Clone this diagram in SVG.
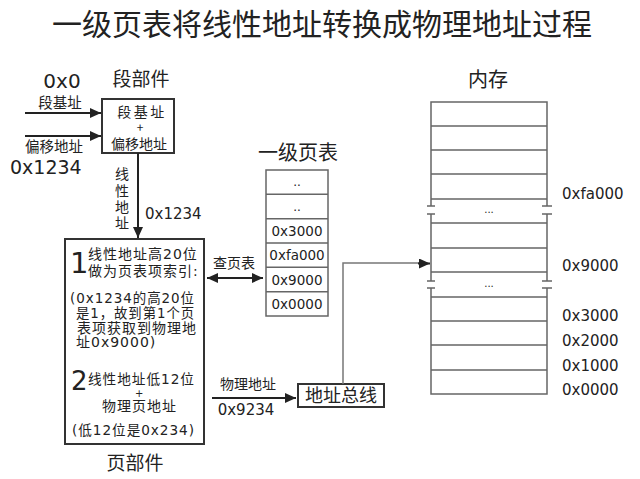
<svg xmlns="http://www.w3.org/2000/svg" width="640" height="479" viewBox="0 0 640 479">
<defs>
<marker id="ah" markerUnits="userSpaceOnUse" markerWidth="12" markerHeight="10" refX="11" refY="5" orient="auto-start-reverse">
<path d="M0,0 L11,5 L0,10 Z" fill="#222"/>
</marker>
</defs>
<style>
text{font-family:"DejaVu Sans","Noto Sans CJK SC",sans-serif;fill:#222}
.cjk{font-family:"Noto Sans CJK SC",sans-serif}
.c{text-anchor:middle}
.box{fill:#fff;stroke:#333;stroke-width:2}
.grid{fill:none;stroke:#666;stroke-width:1.5}
.arr{fill:none;stroke:#222;stroke-width:2}
.thin{fill:none;stroke:#777;stroke-width:1.5}
.pu{font-size:14px;letter-spacing:1px}
</style>
<rect width="640" height="479" fill="#fff"/>

<g id="title">
<text class="cjk c" x="322" y="35" font-size="30">一级页表将线性地址转换成物理地址过程</text>
</g>

<g id="segment-unit">
<text class="cjk c" x="141" y="86" font-size="19">段部件</text>
<rect class="box" x="102" y="99" width="72" height="54"/>
<text class="cjk c" font-size="14"><tspan x="142" y="117" letter-spacing="2.5">段基址</tspan><tspan x="140" y="132" font-size="12">+</tspan><tspan x="139" y="149">偏移地址</tspan></text>
</g>

<g id="inputs">
<text class="c" x="62" y="88" font-size="20">0x0</text>
<text class="cjk c" x="60" y="107.5" font-size="14.5">段基址</text>
<text class="cjk" x="25" y="152" font-size="14.5">偏移地址</text>
<text x="10" y="174" font-size="19">0x1234</text>
</g>

<g id="linear-label">
<text class="cjk" x="122" y="167" font-size="14" writing-mode="vertical-rl" letter-spacing="2.3">线性地址</text>
<text x="145" y="219" font-size="15">0x1234</text>
</g>

<g id="page-unit">
<rect class="box" x="65" y="239" width="139" height="205"/>
<text x="70" y="273" font-size="29">1</text>
<text class="pu" x="88" y="259">线性地址高20位</text>
<text class="pu" x="88" y="276">做为页表项索引:</text>
<text class="pu" x="70" y="303" textLength="125" lengthAdjust="spacingAndGlyphs">(0x1234的高20位</text>
<text class="pu" x="76" y="318" textLength="119" lengthAdjust="spacingAndGlyphs">是1，故到第1个页</text>
<text class="pu" x="77" y="333">表项获取到物理地</text>
<text class="pu" x="76" y="347">址0x9000)</text>
<text x="71" y="390" font-size="26">2</text>
<text class="pu"><tspan x="88" y="384" textLength="107" lengthAdjust="spacingAndGlyphs">线性地址低12位</tspan><tspan x="135" y="397" font-size="10">+</tspan><tspan x="102" y="411">物理页地址</tspan></text>
<text class="pu" x="72" y="435" textLength="123" lengthAdjust="spacingAndGlyphs">(低12位是0x234)</text>
<text class="cjk c" x="135" y="470" font-size="19">页部件</text>
</g>

<g id="page-table">
<text class="cjk c" x="298" y="160" font-size="20">一级页表</text>
<rect class="grid" x="266" y="170" width="62" height="146"/>
<path class="grid" d="M266,194.3H328M266,218.7H328M266,243H328M266,267.3H328M266,291.7H328"/>
<text class="c" x="297" y="186" font-size="12">..</text>
<text class="c" x="297" y="211" font-size="12">..</text>
<text class="c" x="297" y="236" font-size="13.5">0x3000</text>
<text class="c" x="297" y="260" font-size="13.5">0xfa000</text>
<text class="c" x="297" y="285" font-size="13.5">0x9000</text>
<text class="c" x="297" y="309" font-size="13.5">0x0000</text>
<text class="cjk c" x="234" y="268" font-size="14">查页表</text>
</g>

<g id="memory">
<text class="cjk c" x="488" y="87" font-size="20">内存</text>
<path class="grid" d="M431,206V102H547V206M431,214V281M547,214V281M431,288V394H547V288"/>
<path class="grid" d="M431,126H547M431,150H547M431,174H547M431,199H547M431,223H547M431,248H547M431,272H547M431,297H547M431,321H547M431,345H547M431,370H547"/>
<path class="grid" d="M427,206H435M427,214H435M542,206H552M542,214H552M427,281H435M427,288H435M542,281H552M542,288H552"/>
<text class="c" x="489" y="213" font-size="10">...</text>
<text class="c" x="489" y="287" font-size="10">...</text>
<text x="562" y="199" font-size="15">0xfa000</text>
<text x="562" y="271" font-size="15">0x9000</text>
<text x="562" y="321" font-size="15">0x3000</text>
<text x="562" y="346" font-size="15">0x2000</text>
<text x="562" y="371" font-size="15">0x1000</text>
<text x="562" y="395" font-size="15">0x0000</text>
</g>

<g id="address-bus">
<rect class="box" x="298" y="384" width="86" height="23"/>
<text class="cjk c" x="341" y="402" font-size="18">地址总线</text>
</g>

<g id="connectors">
<path class="arr" d="M25,113H101" marker-end="url(#ah)"/>
<path class="arr" d="M25,136H101" marker-end="url(#ah)"/>
<path class="arr" d="M138,153V238" marker-end="url(#ah)"/>
<path class="arr" d="M207,278H263" marker-start="url(#ah)" marker-end="url(#ah)"/>
<path class="arr" d="M212,398H296" marker-end="url(#ah)"/>
<path class="thin" d="M343,384V263H420"/>
<path class="arr" d="M418,263.5H430" marker-end="url(#ah)"/>
<text class="cjk c" x="248" y="389" font-size="14">物理地址</text>
<text class="c" x="246" y="415" font-size="15">0x9234</text>
</g>
</svg>
